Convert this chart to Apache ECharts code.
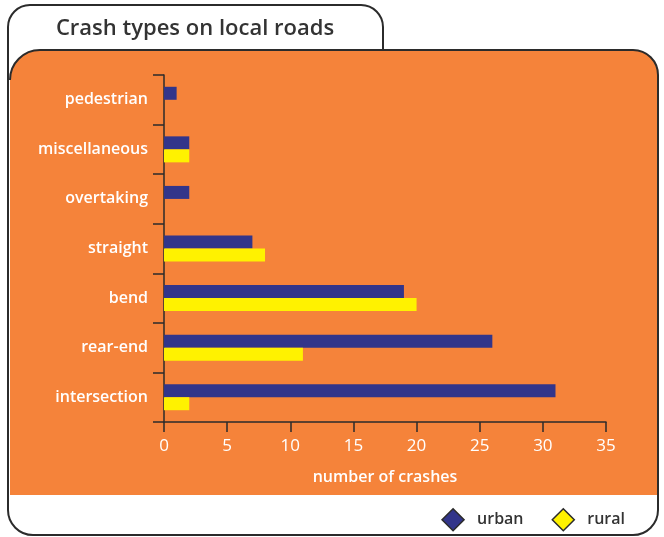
<!DOCTYPE html>
<html>
<head>
<meta charset="utf-8">
<script src="https://cdn.jsdelivr.net/npm/echarts@6/dist/echarts.min.js"></script>
<style>
  html, body { margin: 0; padding: 0; background: #fff; }
  #main { width: 664px; height: 537px; }
</style>
</head>
<body>
<div id="main"></div>
<script>
// data, bottom to top
var categories = ['intersection', 'rear-end', 'bend', 'straight', 'overtaking', 'miscellaneous', 'pedestrian'];
var urban = [31, 26, 19, 7, 2, 2, 1];
var rural = [2, 11, 20, 8, 0, 2, 0];
var xTicks = [0, 5, 10, 15, 20, 25, 30, 35];

var orange = '#f5833a';
var navy = '#32358a';
var yellow = '#fff200';
var ink = '#2b2b2b';
var font = 'Open Sans';

// frame pieces
function seg(x1, y1, x2, y2) {
    return {
        type: 'line', z: -8,
        shape: { x1: x1, y1: y1, x2: x2, y2: y2 },
        style: { stroke: ink, lineWidth: 2 }
    };
}
function corner(cx, cy, r, a0, a1) {
    return {
        type: 'arc', z: -8,
        shape: { cx: cx, cy: cy, r: r, startAngle: a0 * Math.PI, endAngle: a1 * Math.PI, clockwise: true },
        style: { stroke: ink, lineWidth: 2, fill: null }
    };
}

var frame = [
    {
        type: 'rect', z: -10,
        shape: { x: 10, y: 50, width: 648, height: 445, r: [30, 25, 0, 0] },
        style: { fill: orange }
    },
    seg(8, 510, 8, 27),
    corner(30, 27, 22, 1, 1.5),
    seg(30, 5, 361, 5),
    corner(361, 27, 22, 1.5, 2),
    seg(383, 27, 383, 50),
    corner(40, 80, 30, 1, 1.5),
    seg(40, 50, 633, 50),
    corner(633, 75, 25, 1.5, 2),
    seg(658, 75, 658, 510),
    corner(633, 510, 25, 0, 0.5),
    seg(633, 535, 33, 535),
    corner(33, 510, 25, 0.5, 1)
];

var myChart = echarts.init(document.getElementById('main'));

var option = {
    backgroundColor: '#fff',
    animation: false,
    title: {
        text: 'Crash types on local roads',
        left: 190,
        top: 13,
        textAlign: 'center',
        textStyle: {
            color: '#333',
            fontFamily: font,
            fontWeight: 600,
            fontSize: 22
        }
    },
    graphic: { elements: frame },
    legend: {
        right: 34,
        top: 503,
        itemWidth: 22,
        itemHeight: 22,
        itemGap: 28,
        icon: 'diamond',
        data: [
            { name: 'urban', itemStyle: { color: navy, borderColor: ink, borderWidth: 1.5 } },
            { name: 'rural', itemStyle: { color: yellow, borderColor: ink, borderWidth: 1.5 } }
        ],
        textStyle: {
            color: '#333',
            fontFamily: font,
            fontWeight: 600,
            fontSize: 16,
            padding: [0, 0, 0, 8]
        }
    },
    grid: {
        left: 164,
        right: 58,
        top: 75,
        bottom: 115
    },
    xAxis: {
        type: 'value',
        min: 0,
        max: 35,
        interval: 5,
        name: 'number of crashes',
        nameLocation: 'middle',
        nameGap: 47,
        nameTextStyle: {
            color: '#fff',
            fontFamily: font,
            fontWeight: 600,
            fontSize: 16
        },
        axisLine: { show: true, lineStyle: { color: ink, width: 1.5 } },
        axisTick: { show: true, length: 10, lineStyle: { color: ink, width: 1.5 } },
        axisLabel: {
            color: '#fff',
            fontFamily: font,
            fontSize: 17,
            margin: 16,
            formatter: function (v) { return xTicks.indexOf(v) >= 0 ? v : ''; }
        },
        splitLine: { show: false }
    },
    yAxis: {
        type: 'category',
        data: categories,
        axisLine: { show: true, lineStyle: { color: ink, width: 1.5 } },
        axisTick: { show: true, length: 11, lineStyle: { color: ink, width: 1.5 } },
        axisLabel: {
            color: '#fff',
            fontFamily: font,
            fontWeight: 600,
            fontSize: 16,
            margin: 16
        }
    },
    series: [
        {
            name: 'urban',
            type: 'bar',
            barWidth: 13,
            barGap: '0%',
            data: urban,
            itemStyle: { color: navy }
        },
        {
            name: 'rural',
            type: 'bar',
            barWidth: 13,
            barGap: '0%',
            data: rural,
            itemStyle: { color: yellow }
        }
    ]
};

myChart.setOption(option);
</script>
</body>
</html>
